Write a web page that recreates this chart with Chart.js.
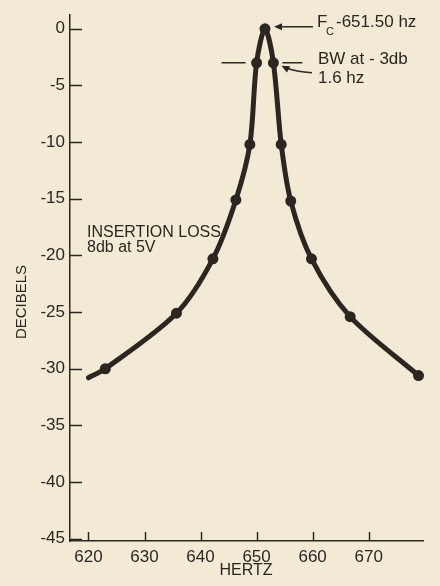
<!DOCTYPE html>
<html>
<head>
<meta charset="utf-8">
<script src="https://cdn.jsdelivr.net/npm/chart.js@4.4.1/dist/chart.umd.min.js"></script>
<style>
  html, body { margin: 0; padding: 0; background: #f3ead5; }
  #wrap { width: 440px; height: 586px; }
</style>
</head>
<body>
<div id="wrap"><canvas id="c" width="440" height="586"></canvas></div>
<script>
// Filter response: attenuation (dB) against frequency (Hz)
const hertz    = [620, 623.0, 635.7, 642.2, 646.3, 648.8, 650.0, 651.5, 653.0, 654.4, 656.1, 659.8, 666.7, 678.9];
const decibels = [-30.8, -30.0, -25.1, -20.3, -15.1, -10.2, -3.0, 0, -3.0, -10.2, -15.2, -20.3, -25.4, -30.6];
// first sample is the start of the traced curve, drawn without a dot
const marked   = [false, true, true, true, true, true, true, true, true, true, true, true, true, true];

const xTicks = [620, 630, 640, 650, 660, 670];
const yTicks = [0, -5, -10, -15, -20, -25, -30, -35, -40, -45];

const centerFreq = 651.5;
const INK = '#2b2622';
const PAPER = '#f3ead5';
const FONT = '"Liberation Sans", Arial, sans-serif';

const points = hertz.map((h, i) => ({ x: h, y: decibels[i] }));

const paper = {
  id: 'paper',
  beforeDraw(chart) {
    const { ctx, width, height } = chart;
    ctx.save();
    ctx.fillStyle = PAPER;
    ctx.fillRect(0, 0, width, height);
    ctx.restore();
  }
};

// short inward tick marks on both axes
const innerTicks = {
  id: 'innerTicks',
  afterDraw(chart) {
    const { ctx, scales: { x, y }, chartArea: a } = chart;
    ctx.save();
    ctx.strokeStyle = INK;
    ctx.lineWidth = 1.5;
    ctx.beginPath();
    yTicks.forEach(v => {
      const py = Math.round(y.getPixelForValue(v)) + 0.5;
      ctx.moveTo(a.left, py);
      ctx.lineTo(a.left + 12, py);
    });
    xTicks.forEach(v => {
      const px = Math.round(x.getPixelForValue(v)) + 0.5;
      ctx.moveTo(px, a.bottom);
      ctx.lineTo(px, a.bottom - 9);
    });
    ctx.stroke();
    ctx.restore();
  }
};

function arrowHead(ctx, tipX, tipY, fromX, fromY, len, half) {
  const ang = Math.atan2(tipY - fromY, tipX - fromX);
  ctx.beginPath();
  ctx.moveTo(tipX, tipY);
  ctx.lineTo(tipX - len * Math.cos(ang) + half * Math.sin(ang), tipY - len * Math.sin(ang) - half * Math.cos(ang));
  ctx.lineTo(tipX - len * Math.cos(ang) - half * Math.sin(ang), tipY - len * Math.sin(ang) + half * Math.cos(ang));
  ctx.closePath();
  ctx.fill();
}

// notes, leader arrows and axis titles
const notes = {
  id: 'notes',
  afterDraw(chart) {
    const { ctx, scales: { x, y } } = chart;
    const peakX = x.getPixelForValue(centerFreq);
    const peakY = y.getPixelForValue(0);
    const lowX = x.getPixelForValue(hertz[6]);
    const highX = x.getPixelForValue(hertz[8]);
    const bwY = y.getPixelForValue(-3);

    ctx.save();
    ctx.fillStyle = INK;
    ctx.strokeStyle = INK;
    ctx.lineWidth = 1.6;
    ctx.textBaseline = 'alphabetic';
    ctx.textAlign = 'left';

    // centre frequency
    ctx.font = '17px ' + FONT;
    ctx.fillText('F', 317, 27);
    ctx.font = '11px ' + FONT;
    ctx.fillText('C', 326, 35);
    ctx.font = '17px ' + FONT;
    ctx.fillText('-651.50 hz', 336, 27);
    ctx.beginPath();
    ctx.moveTo(313, peakY - 2);
    ctx.lineTo(peakX + 14, peakY - 2);
    ctx.stroke();
    arrowHead(ctx, peakX + 9, peakY - 2, 313, peakY - 2, 8, 3.5);

    // -3 dB bandwidth
    ctx.beginPath();
    ctx.moveTo(lowX - 35, bwY);
    ctx.lineTo(lowX - 11, bwY);
    ctx.moveTo(highX + 9, bwY);
    ctx.lineTo(highX + 29, bwY);
    ctx.stroke();
    ctx.beginPath();
    ctx.moveTo(312, bwY + 10);
    ctx.quadraticCurveTo(296, bwY + 9, highX + 12, bwY + 5);
    ctx.stroke();
    arrowHead(ctx, highX + 8, bwY + 3, highX + 16, bwY + 7, 8, 3.5);

    ctx.font = '17px ' + FONT;
    ctx.fillText('BW at - 3db', 318, 64);
    ctx.fillText('1.6 hz', 318, 83);

    ctx.font = '16px ' + FONT;
    ctx.fillText('INSERTION LOSS', 87, 237);
    ctx.fillText('8db at 5V', 87, 252);

    // axis titles
    ctx.font = '16px ' + FONT;
    ctx.textAlign = 'center';
    ctx.textBaseline = 'middle';
    ctx.fillText('HERTZ', 246, 571);
    ctx.font = '15px ' + FONT;
    ctx.translate(22, 302);
    ctx.rotate(-Math.PI / 2);
    ctx.fillText('DECIBELS', 0, 0);
    ctx.restore();
  }
};

new Chart(document.getElementById('c'), {
  type: 'line',
  data: {
    datasets: [{
      data: points,
      clip: false,
      borderColor: INK,
      backgroundColor: INK,
      borderWidth: 5,
      tension: 0.3,
      fill: false,
      pointRadius: marked.map(m => (m ? 5.5 : 0)),
      pointHoverRadius: marked.map(m => (m ? 5.5 : 0)),
      pointBackgroundColor: INK,
      pointBorderWidth: 0,
      borderCapStyle: 'round',
      borderJoinStyle: 'round'
    }]
  },
  options: {
    responsive: false,
    animation: false,
    events: [],
    layout: { padding: { top: 10, right: 17, left: 0, bottom: 0 } },
    plugins: {
      legend: { display: false },
      tooltip: { enabled: false }
    },
    scales: {
      x: {
        type: 'linear',
        min: 616.7,
        max: 679.7,
        afterBuildTicks: s => { s.ticks = xTicks.map(v => ({ value: v })); },
        afterFit: s => { s.height = 45; },
        grid: { display: true, drawOnChartArea: false, drawTicks: false },
        border: { display: true, color: INK, width: 1.5 },
        ticks: { color: INK, font: { family: FONT, size: 17 }, padding: 6, maxRotation: 0 }
      },
      y: {
        type: 'linear',
        min: -45.2,
        max: 1.2,
        afterBuildTicks: s => { s.ticks = yTicks.map(v => ({ value: v })); },
        afterFit: s => { s.width = 70; },
        grid: { display: true, drawOnChartArea: false, drawTicks: false },
        border: { display: true, color: INK, width: 1.5 },
        ticks: { color: INK, font: { family: FONT, size: 17 }, padding: 5 }
      }
    }
  },
  plugins: [paper, innerTicks, notes]
});
</script>
</body>
</html>
